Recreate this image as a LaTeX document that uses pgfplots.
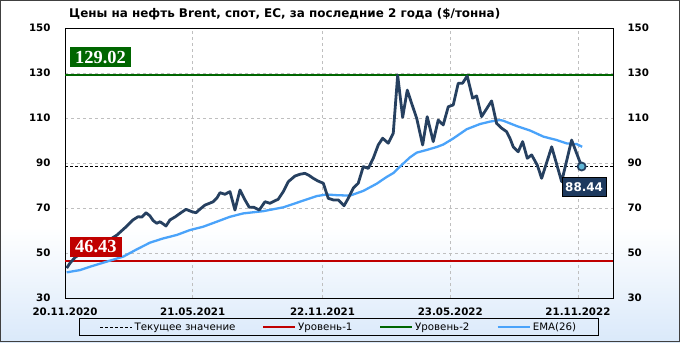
\documentclass[border=0pt]{standalone}
\usepackage{fontspec}
\setmainfont{DejaVu Sans}
\newfontfamily\serifb{Liberation Serif}
\usepackage{pgfplots}
\pgfplotsset{compat=1.18}
\definecolor{navy}{RGB}{38,64,96}
\definecolor{emablue}{RGB}{74,163,250}
\definecolor{lvlred}{RGB}{192,0,0}
\definecolor{lvlgreen}{RGB}{0,102,0}
\definecolor{bgblue}{RGB}{218,233,250}
\definecolor{mfill}{RGB}{96,182,214}
\definecolor{boxnavy}{RGB}{30,58,95}
\begin{document}
\begin{tikzpicture}[x=1bp,y=1bp]
\useasboundingbox (0,0) rectangle (680,342);
\fill[white] (0,0) rectangle (680,342);
\shade[top color=white, bottom color=bgblue] (0,0) rectangle (680,115);
\draw[black!75, line width=1bp] (0.5,0.5) rectangle (679.5,341.5);
\node[anchor=west, inner xsep=0pt, font=\bfseries\fontsize{12}{13}\selectfont] at (69,328) {Цены на нефть Brent, спот, ЕС, за последние 2 года (\$/тонна)};
\begin{axis}[
  at={(65bp,44bp)}, anchor=south west, scale only axis,
  width=548bp, height=270bp,
  xmin=0, xmax=781, ymin=30, ymax=150,
  xtick={0,182,367,549,731},
  xticklabels={\textbf{20.11.2020},\textbf{21.05.2021},\textbf{22.11.2021},\textbf{23.05.2022},\textbf{21.11.2022}},
  ytick={30,50,70,90,110,130,150},
  yticklabels={\textbf{30},\textbf{50},\textbf{70},\textbf{90},\textbf{110},\textbf{130},\textbf{150}},
  grid=major,
  major grid style={dash pattern=on 3bp off 3bp, black!25, line width=0.6bp},
  axis line style={black, line width=0.8bp},
  major tick length=0,
  ticklabel style={font=\bfseries\fontsize{10.3}{12}\selectfont},
  xticklabel style={yshift=-6bp},
  yticklabel style={xshift=-11bp},
  legend columns=4,
  legend image code/.code={\draw[#1] (0bp,0bp) -- (32bp,0bp);},
  legend style={at={(0.5,-0.074)}, anchor=north, draw=black, line width=0.8bp, fill=none,
    font=\fontsize{10.3}{12}\selectfont, inner xsep=20bp, inner ysep=2bp,
    /tikz/every even column/.append style={column sep=25bp}},
]
\addplot[black, dash pattern=on 3bp off 2bp, line width=0.8bp] coordinates {(0,88.44) (781,88.44)};
\addlegendentry{Текущее значение}
\addplot[lvlred, line width=1.6bp] coordinates {(0,46.43) (781,46.43)};
\addlegendentry{Уровень-1}
\addplot[lvlgreen, line width=1.6bp] coordinates {(0,129.02) (781,129.02)};
\addlegendentry{Уровень-2}
\addplot[emablue, line width=2.3bp] coordinates {
(2.4,41.4) (21.4,42.4) (35.6,43.9) (54.6,45.7) (83.1,48.4) (102.2,51.6) (121.1,54.6)
(140.1,56.5) (159.2,58) (178.1,60.2) (197.1,61.7) (216.2,63.9) (235.1,66.1) (254.1,67.6)
(282.6,68.6) (311.1,70.3) (334.9,72.8) (358.7,75.3) (372.9,76.0) (387.2,75.7) (406.1,75.5)
(425.1,77.6) (444.2,80.8) (458.4,83.8) (467.8,85.5) (479.8,89.1) (491.6,92.5) (501.2,94.6)
(515.5,95.8) (529.7,97.1) (539.0,98.2) (553.3,100.9) (572.4,105) (591.3,107.3) (605.6,108.4)
(619.8,109.1) (624.5,108.8) (644.0,106.4) (663.0,104.4) (682.0,101.7) (700.8,100.2)
(715.1,98.7) (729.2,98.4) (737.1,97.2)};
\addlegendentry{EMA(26)}
\addplot[navy, line width=2.8bp, line join=round, forget plot] coordinates {
(2.4,43.3) (7.1,45.5) (14.2,48) (21.4,49.5) (32.8,50.5) (42.7,52) (54.1,54) (64.1,56)
(74.1,58) (81.2,60) (88.3,62) (96.9,64.7) (104.0,66.1) (109.7,66) (115.4,67.9) (121.1,66.5)
(125.4,64.5) (130.7,63.2) (135.4,63.9) (139.6,63) (143.9,62) (149.6,64.7) (156.7,66)
(163.9,67.6) (172.4,69.4) (180.5,68.4) (186.7,67.9) (192.4,69.5) (199.5,71.3) (205.2,72)
(211.3,72.8) (216.6,74.5) (220.9,76.8) (228.0,76.1) (235.1,77.3) (242.2,69.1) (249.4,78)
(256.5,73.6) (262.6,70.3) (269.3,70.3) (276.9,69.1) (285.0,72.8) (292.1,72.1) (297.8,73)
(303.9,73.9) (311.1,77.3) (318.2,81.7) (327.7,84.2) (334.9,85) (342.0,85.4) (347.7,84.5)
(353.8,83.2) (360.5,82) (368.1,81) (375.2,74.3) (382.3,73.6) (389.4,73.6) (397.6,71)
(403.7,74.3) (410.8,78.8) (417.9,81) (425.1,88.4) (432.2,87.6) (439.3,92.1) (446.4,98)
(452.7,101) (460.7,98.8) (467.8,103.2) (474.1,129.02) (481.2,110.3) (487.8,122.4)
(494.0,116.5) (501.2,109.9) (509.7,98) (516.2,110.6) (524.8,99.5) (531.9,109.1)
(539.0,106.9) (546.2,115) (553.3,115.8) (560.4,125.4) (566.7,125.5) (573.2,128.7)
(580.9,118.8) (586.6,119.8) (593.7,110.6) (608.0,117.6) (615.1,107.6) (622.2,105.5)
(629.4,103.9) (634.1,101) (638.8,97.2) (645.9,95) (652.2,99.5) (658.8,92.1) (665.0,93.6)
(673.0,89.1) (679.3,83.2) (693.6,97.2) (707.8,81.7) (722.0,100.2) (736.3,88.44)};
\addplot[only marks, mark=*, mark size=4bp, mark options={fill=mfill, draw=navy, line width=1.8bp}, forget plot] coordinates {(736.3,88.44)};
\node[anchor=west, fill=lvlgreen, text=white, inner xsep=5bp, inner ysep=0bp, minimum height=20bp,
  font=\serifb\bfseries\fontsize{18.5}{18}\selectfont] at (axis cs:7.1,136.9) {129.02};
\node[anchor=west, fill=lvlred, text=white, inner xsep=5bp, inner ysep=0bp, minimum height=20bp,
  font=\serifb\bfseries\fontsize{18.5}{18}\selectfont] at (axis cs:7.1,52.8) {46.43};
\node[fill=boxnavy, draw=black, line width=0.8bp, text=white, inner xsep=3bp, inner ysep=0bp, minimum height=19bp,
  font=\bfseries\fontsize{12}{12}\selectfont] at (axis cs:739.8,79.2) {88.44};
\end{axis}
\begin{axis}[
  at={(65bp,44bp)}, anchor=south west, scale only axis,
  width=548bp, height=270bp,
  xmin=0, xmax=781, ymin=30, ymax=150,
  axis y line*=right, axis x line=none,
  ytick={30,50,70,90,110,130,150},
  yticklabels={\textbf{30},\textbf{50},\textbf{70},\textbf{90},\textbf{110},\textbf{130},\textbf{150}},
  axis line style={black, line width=0.8bp},
  major tick length=0,
  ticklabel style={font=\bfseries\fontsize{10.3}{12}\selectfont},
  yticklabel style={xshift=11bp},
]
\addplot[draw=none] coordinates {(0,30)};
\end{axis}
\end{tikzpicture}
\end{document}
